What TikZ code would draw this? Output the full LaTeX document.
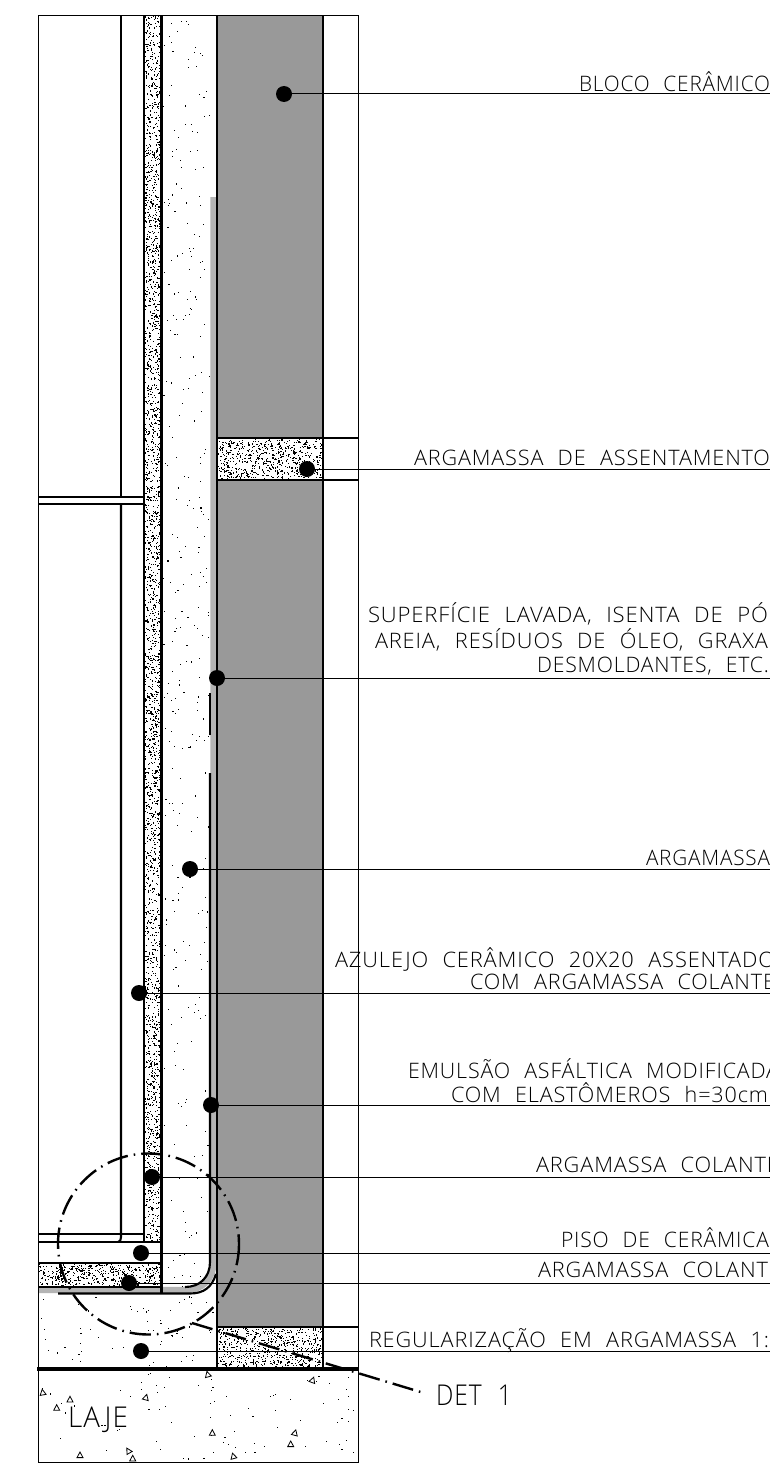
\documentclass[tikz,border=0pt]{standalone}
\usepackage{graphicx}
\usepackage{fontspec}
\newfontfamily\cad{Open Sans Light}[LetterSpace=4,WordSpace=2.2]
\newsavebox\lblbox
\newcommand{\fitw}[2]{\sbox\lblbox{#2}\pgfmathsetmacro\sxf{(#1)*0.75/\wd\lblbox}\scalebox{\sxf}[1]{\usebox\lblbox}}
\newcommand{\lbl}[5]{\node[lab] (#1) at (#2,#4) {\fitw{#3-#2}{#5}};}
\newcommand{\stip}[6]{\foreach \i in {1,...,#5}{\pgfmathsetmacro\px{#1+rnd*(#3-#1)}\pgfmathsetmacro\py{#2+rnd*(#4-#2)}\fill (\px,\py) rectangle ++(#6,#6);}}
\newcommand{\tri}[3]{\draw[triline,shift={(#1,#2)},rotate=#3] (0,-3)--(3,2.6)--(-3,2.6)--cycle;}
\definecolor{blockgray}{HTML}{999999}
\definecolor{bandgray}{HTML}{B4B4B4}
\tikzset{
  lab/.style={anchor=base west,inner sep=0pt,outer sep=0pt,font=\cad\fontsize{16pt}{16pt}\selectfont},
  bigl/.style={anchor=base west,inner sep=0pt,outer sep=0pt,font=\cad\fontsize{21.5pt}{22pt}\selectfont},
  thinl/.style={line width=0.75pt},
  medl/.style={line width=1.1pt},
  heavy/.style={line width=1.6pt},
  leader/.style={line width=0.75pt},
  pin/.style={circle,fill=black,minimum size=12pt,inner sep=0pt,outer sep=0pt},
  triline/.style={line width=0.6pt},
  detail/.style={line width=1.8pt,dash pattern=on 16pt off 4.5pt on 1.2pt off 4.5pt}
}
\begin{document}
\begin{tikzpicture}[x=0.75pt,y=-0.75pt]
\useasboundingbox (0,0) rectangle (770,1463);
\clip (0,0) rectangle (770,1463);
\fill[white] (0,0) rectangle (770,1463);
\pgfmathsetseed{4217}
% block masonry
\fill[blockgray] (217,16) rectangle (323,438);
\fill[blockgray] (217,480) rectangle (323,1327);
% bonding band
\draw[bandgray,line width=4.6pt] (38,1290) -- (186,1290) .. controls (203,1290) and (213.5,1279) .. (213.5,1262) -- (213.5,197);
% stipple
\stip{144.5}{16}{160}{1241}{2600}{1.15}
\stip{218}{439}{321}{478}{600}{1.15}
\stip{218}{1328}{321}{1367}{600}{1.15}
\stip{39}{1264}{160}{1285}{430}{1.15}
\stip{163}{18}{209}{1286}{300}{1.1}
\stip{40}{1296}{215}{1367}{65}{1.1}
\stip{40}{1372}{355}{1460}{80}{1.1}
% triangles in slab
\tri{207.7}{1374.3}{15}\tri{312.7}{1380}{-20}\tri{42.7}{1392.3}{10}\tri{70}{1399.3}{0}
\tri{56.7}{1407.7}{0}\tri{146}{1397.3}{-15}\tri{212.3}{1432.7}{0}\tri{295}{1432.7}{-15}
\tri{290.7}{1444}{0}\tri{128.3}{1450.7}{30}\tri{80}{1455}{0}\tri{132.7}{1458.3}{0}\tri{233.3}{1456}{15}
% frame
\draw[thinl] (38,16) -- (358,16) -- (358,1462) -- (38,1462) -- cycle;
% finishing layers
\draw[heavy] (121,16) -- (121,497);
\draw[heavy] (121,504) -- (121,1237) .. controls (121,1240) and (120,1242) .. (118,1242);
\draw[medl] (38,497) -- (144,497);
\draw[medl] (38,504) -- (144,504);
\draw[medl] (38,1234) -- (144,1234);
\draw[heavy] (38,1242) -- (162,1242);
\draw[heavy] (38,1263) -- (162,1263);
\draw[heavy] (38,1287) -- (162,1287);
\draw[heavy] (144,16) -- (144,1242);
\draw[heavy] (161.5,16) -- (161.5,1294);
% waterproofing
\draw[heavy] (185,1287) .. controls (200,1287) and (210,1277) .. (210,1262) -- (210,773);
\draw[heavy] (210,735) -- (210,693);
\draw[heavy] (58,1293.5) -- (190,1293.5) .. controls (204,1293.5) and (212,1287) .. (216,1274);
% masonry lines
\draw[line width=2.2pt] (217,16) -- (217,1369);
\draw[line width=2.2pt] (323,16) -- (323,1369);
\draw[medl] (217,438) -- (358,438);
\draw[heavy] (217,480) -- (358,480);
\draw[heavy] (217,1327) -- (358,1327);
\draw[line width=3pt] (37,1369) -- (358,1369);
% detail mark
\coordinate (detc) at (148.5,1244);
\coordinate (detfrom) at (192,1323);
\coordinate (detto) at (424,1393);
\draw[detail] (detc) circle [radius=90.5];
\draw[detail] (detfrom) -- (detto);
% pins and leaders
\node[pin] (p1) at (284,94) {};
\node[pin] (p2) at (307,469) {};
\node[pin] (p3) at (217,678) {};
\node[pin] (p4) at (190,869) {};
\node[pin] (p5) at (139,993) {};
\node[pin] (p6) at (211,1105) {};
\node[pin] (p7) at (152,1177) {};
\node[pin] (p8) at (141,1253) {};
\node[pin] (p9) at (129,1283) {};
\node[pin] (p10) at (141,1351) {};
\coordinate (e1) at (770,94);
\coordinate (e2) at (770,469);
\coordinate (e3) at (770,678);
\coordinate (e4) at (770,869);
\coordinate (e5) at (770,993);
\coordinate (e6) at (770,1105);
\coordinate (e7) at (770,1177);
\coordinate (e8) at (770,1253);
\coordinate (e9) at (770,1283);
\coordinate (e10) at (770,1351);
\foreach \k in {1,...,10}{\draw[leader] (p\k) -- (e\k);}
% labels
\lbl{t1}{579}{770}{91}{BLOCO CERÂMICO}
\lbl{t2}{414}{770}{465}{ARGAMASSA DE ASSENTAMENTO}
\lbl{t3a}{368}{768}{622}{SUPERFÍCIE LAVADA, ISENTA DE PÓ}
\lbl{t3b}{375}{768}{648}{AREIA, RESÍDUOS DE ÓLEO, GRAXA}
\lbl{t3c}{537}{769}{672}{DESMOLDANTES, ETC.}
\lbl{t4}{646}{770}{865}{ARGAMASSA}
\lbl{t5a}{335}{775}{967}{AZULEJO CERÂMICO 20X20 ASSENTADO}
\lbl{t5b}{470}{775}{989}{COM ARGAMASSA COLANTE}
\lbl{t6a}{408}{779}{1078}{EMULSÃO ASFÁLTICA MODIFICADA}
\lbl{t6b}{451}{768}{1102}{COM ELASTÔMEROS h=30cm}
\lbl{t7}{536}{779}{1172}{ARGAMASSA COLANTE}
\lbl{t8}{561}{769}{1247}{PISO DE CERÂMICA}
\lbl{t9}{538}{768}{1277}{ARGAMASSA COLANT}
\lbl{t10}{369}{769}{1347}{REGULARIZAÇÃO EM ARGAMASSA 1:}
\node[bigl] (t11) at (436,1405) {\fitw{76}{DET 1}};
\node[bigl] (t12) at (68,1427) {\fitw{60}{LAJE}};
\end{tikzpicture}
\end{document}
